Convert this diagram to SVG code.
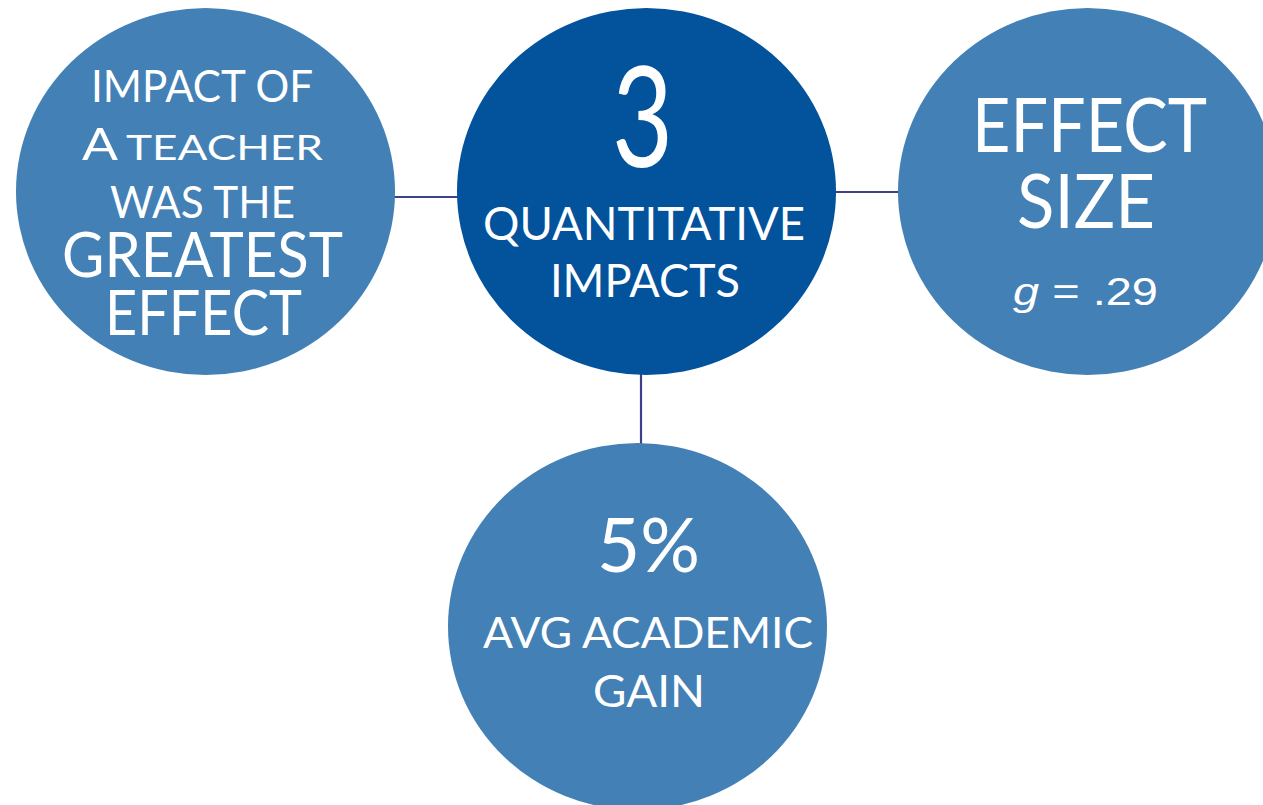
<svg xmlns="http://www.w3.org/2000/svg" width="1263" height="805" viewBox="0 0 1263 805">
  <style>
    .side { fill: #4380b5; }
    .hub { fill: #02529c; }
    .link { stroke: #3c418a; stroke-width: 2.2; fill: none; }
    text { fill: #ffffff; font-family: Lato, "Liberation Sans", sans-serif; font-weight: 400; }
    .formula { font-family: "Liberation Sans", Arial, sans-serif; font-weight: 400; }
  </style>
  <rect width="1263" height="805" fill="#ffffff"/>

  <!-- connectors from the hub to each outer circle -->
  <g id="connectors">
    <line class="link" x1="394" y1="197" x2="458" y2="197"/>
    <line class="link" x1="835" y1="192" x2="899" y2="192"/>
    <line class="link" x1="641" y1="374" x2="641" y2="444"/>
  </g>

  <g id="node-teacher">
    <ellipse class="side" cx="205.5" cy="191.5" rx="189.5" ry="183.5"/>
    <text x="91" y="102" font-size="44" textLength="222" lengthAdjust="spacingAndGlyphs">IMPACT OF</text>
    <text x="82" y="160" font-size="44" textLength="36" lengthAdjust="spacingAndGlyphs">A</text>
    <text x="126" y="160" font-size="35" textLength="197" lengthAdjust="spacingAndGlyphs">TEACHER</text>
    <text x="110" y="218" font-size="44" textLength="185" lengthAdjust="spacingAndGlyphs">WAS THE</text>
    <text x="62" y="277" font-size="61" textLength="281" lengthAdjust="spacingAndGlyphs">GREATEST</text>
    <text x="105" y="335" font-size="61" textLength="197" lengthAdjust="spacingAndGlyphs">EFFECT</text>
  </g>

  <g id="node-hub">
    <ellipse class="hub" cx="646.5" cy="191.5" rx="189.5" ry="183.5"/>
    <text x="612" y="167" font-size="139" textLength="61" lengthAdjust="spacingAndGlyphs">3</text>
    <text x="483" y="240" font-size="46" textLength="322" lengthAdjust="spacingAndGlyphs">QUANTITATIVE</text>
    <text x="550" y="297" font-size="46" textLength="190" lengthAdjust="spacingAndGlyphs">IMPACTS</text>
  </g>

  <g id="node-effect-size">
    <ellipse class="side" cx="1087.5" cy="191.5" rx="189.5" ry="183.5"/>
    <text x="972" y="152" font-size="75" textLength="235" lengthAdjust="spacingAndGlyphs">EFFECT</text>
    <text x="1017" y="228" font-size="75" textLength="138" lengthAdjust="spacingAndGlyphs">SIZE</text>
    <text class="formula" x="1013" y="305" font-size="38" textLength="145" lengthAdjust="spacingAndGlyphs"><tspan font-style="italic">g</tspan> = .29</text>
  </g>

  <g id="node-gain">
    <ellipse class="side" cx="637.5" cy="626.5" rx="189.5" ry="183.5"/>
    <text x="597" y="572" font-size="75" textLength="103" lengthAdjust="spacingAndGlyphs">5%</text>
    <text x="483" y="648" font-size="43" textLength="330" lengthAdjust="spacingAndGlyphs">AVG ACADEMIC</text>
    <text x="593" y="707" font-size="44" textLength="112" lengthAdjust="spacingAndGlyphs">GAIN</text>
  </g>
</svg>
